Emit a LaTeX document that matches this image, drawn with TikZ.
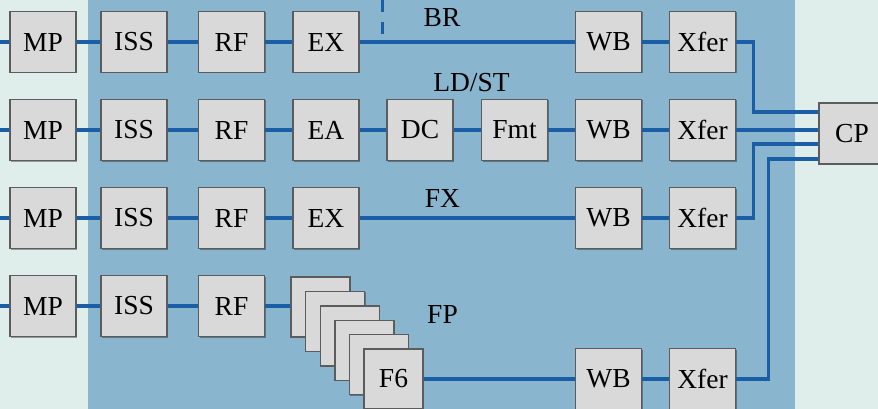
\documentclass[tikz,border=0pt]{standalone}
\usepackage{fontspec}
\setmainfont{Liberation Serif}
\usetikzlibrary{shadows,calc}
\definecolor{bgc}{HTML}{DFEEEB}
\definecolor{panelc}{HTML}{89B6CE}
\definecolor{boxc}{HTML}{D9D9D9}
\definecolor{edgec}{HTML}{5C5C5C}
\definecolor{wirec}{HTML}{1A5FA6}
\begin{document}
\begin{tikzpicture}[x=1pt,y=-1pt,
  blk/.style={draw=edgec,fill=boxc,line width=1.4pt,minimum width=66pt,minimum height=61pt,inner sep=0pt,
    font=\fontsize{27.5}{30}\selectfont,
    drop shadow={shadow xshift=1pt,shadow yshift=-1pt,opacity=0.35,fill=black}},
  fblk/.style={blk,minimum width=59pt,minimum height=60pt},
  wire/.style={draw=wirec,line width=3.4pt},
  lbl/.style={font=\fontsize{27.5}{30}\selectfont,anchor=base,inner sep=0pt}]
\useasboundingbox (0,0) rectangle (878,409);
\fill[bgc] (0,0) rectangle (878,409);
\fill[panelc] (88,0) rectangle (795,409);
% row 1
\node[blk] (MP1) at (43,42) {MP};
\node[blk] (ISS1) at (134,42) {ISS};
\node[blk] (RF1) at (231.5,42) {RF};
\node[blk] (EX1) at (326,42) {EX};
\node[blk] (WB1) at (608.5,42) {WB};
\node[blk] (X1) at (702.5,42) {Xfer};
% row 2
\node[blk] (MP2) at (43,130) {MP};
\node[blk] (ISS2) at (134,130) {ISS};
\node[blk] (RF2) at (231.5,130) {RF};
\node[blk] (EA2) at (326,130) {EA};
\node[blk] (DC2) at (420,130) {DC};
\node[blk] (Fmt2) at (514.5,130) {Fmt};
\node[blk] (WB2) at (608.5,130) {WB};
\node[blk] (X2) at (702.5,130) {Xfer};
% row 3
\node[blk] (MP3) at (43,218) {MP};
\node[blk] (ISS3) at (134,218) {ISS};
\node[blk] (RF3) at (231.5,218) {RF};
\node[blk] (EX3) at (326,218) {EX};
\node[blk] (WB3) at (608.5,218) {WB};
\node[blk] (X3) at (702.5,218) {Xfer};
% row 4
\node[blk] (MP4) at (43,306) {MP};
\node[blk] (ISS4) at (134,306) {ISS};
\node[blk] (RF4) at (231.5,306) {RF};
\node[fblk] (F1) at (320.5,307) {};
\node[fblk] (F2) at (335.1,321.4) {};
\node[fblk] (F3) at (349.7,335.8) {};
\node[fblk] (F4) at (364.3,350.2) {};
\node[fblk] (F5) at (378.9,364.6) {};
\node[fblk] (F6) at (393.5,379) {F6};
\node[blk] (WB4) at (608.5,379) {WB};
\node[blk] (X4) at (702.5,379) {Xfer};
% CP
\node[blk] (CP) at (852,133.5) {CP};
% labels
\node[lbl] (BR) at (442,27) {BR};
\node[lbl] (LDST) at (471.5,92) {LD/ST};
\node[lbl] (FX) at (442.5,207) {FX};
\node[lbl] (FP) at (442.5,323) {FP};
% free ends
\coordinate (L1) at (0,42);
\coordinate (L2) at (0,130);
\coordinate (L3) at (0,218);
\coordinate (L4) at (0,306);
\coordinate (D0) at (382,0);
% wires
\draw[wire] (L1) -- (MP1.west);
\draw[wire] (MP1) -- (ISS1); \draw[wire] (ISS1) -- (RF1); \draw[wire] (RF1) -- (EX1);
\draw[wire] (EX1) -- (WB1); \draw[wire] (WB1) -- (X1);
\draw[wire] (L2) -- (MP2.west);
\draw[wire] (MP2) -- (ISS2); \draw[wire] (ISS2) -- (RF2); \draw[wire] (RF2) -- (EA2);
\draw[wire] (EA2) -- (DC2); \draw[wire] (DC2) -- (Fmt2); \draw[wire] (Fmt2) -- (WB2); \draw[wire] (WB2) -- (X2);
\draw[wire] (L3) -- (MP3.west);
\draw[wire] (MP3) -- (ISS3); \draw[wire] (ISS3) -- (RF3); \draw[wire] (RF3) -- (EX3);
\draw[wire] (EX3) -- (WB3); \draw[wire] (WB3) -- (X3);
\draw[wire] (L4) -- (MP4.west);
\draw[wire] (MP4) -- (ISS4); \draw[wire] (ISS4) -- (RF4); \draw[wire] (RF4) -- (F1.west |- RF4);
\draw[wire] (F6) -- (WB4); \draw[wire] (WB4) -- (X4);
\draw[wire,dash pattern=on 12pt off 10pt,line width=3pt] (D0) -- (D0 |- EX1.east);
\draw[wire] (X1.east) -- ++(17,0) |- ([yshift=21.5pt]CP.west);
\draw[wire] (X2.east) -- (X2 -| CP.west);
\draw[wire] (X3.east) -- ++(17,0) |- ([yshift=-10.5pt]CP.west);
\draw[wire] (X4.east) -- ++(32,0) |- ([yshift=-25.5pt]CP.west);
\end{tikzpicture}
\end{document}
